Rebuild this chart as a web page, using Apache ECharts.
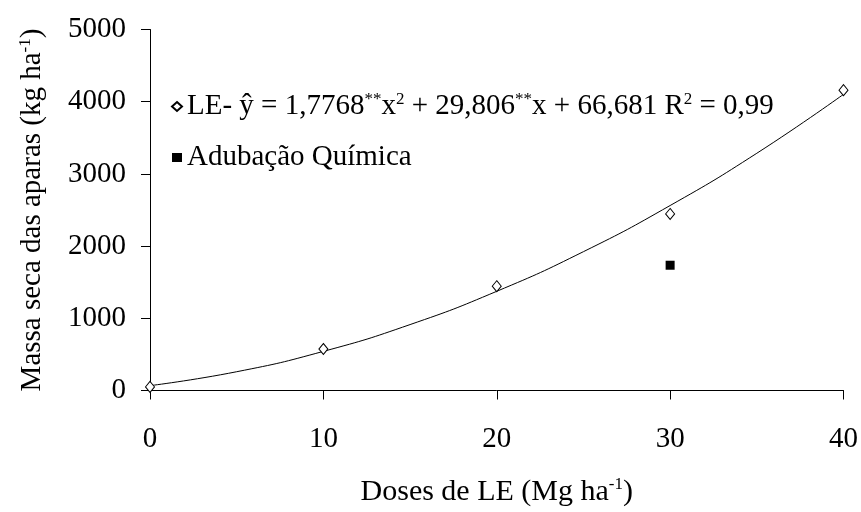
<!DOCTYPE html>
<html><head><meta charset="utf-8">
<script src="https://cdn.jsdelivr.net/npm/echarts@6/dist/echarts.min.js"></script>
<style>html,body{margin:0;padding:0;background:#fff}#c{width:861px;height:512px}</style>
</head><body><div id="c"></div>
<script>
// Observed LE doses and dry mass
var doses = [0, 10, 20, 30, 40];
var leValues = [50, 575, 1445, 2445, 4160];
// Chemical fertilization point
var quimDose = [30];
var quimValues = [1735];
// Fitted curve
var curveX = [0, 5, 10, 15, 20, 25, 30, 35, 40];
var curveY = [67, 260, 542, 913, 1374, 1923, 2562, 3286, 4102];
var xTicks = [0, 10, 20, 30, 40];
var yTicks = [0, 1000, 2000, 3000, 4000, 5000];

var font = 'Liberation Serif';
var FS = 29;
var chart = echarts.init(document.getElementById('c'));
var sup = {fontFamily: font, fontSize: 17, verticalAlign: 'top', color: '#000', padding:[0,0,14,0]};
chart.setOption({
  animation: false,
  grid: {left: 150, right: 17, top: 29.5, bottom: 121.5},
  xAxis: {
    type: 'value', min: xTicks[0], max: xTicks[xTicks.length-1], interval: 10,
    axisLine: {lineStyle: {color: '#000', width: 1}},
    axisTick: {show: true, length: 9, lineStyle: {color: '#000'}},
    splitLine: {show: false},
    axisLabel: {color: '#000', fontFamily: font, fontSize: FS, margin: 34, formatter: function (v) { return String(v); }},
    name: '{t|Doses de LE (Mg ha}{s|-1}{t|)}',
    nameLocation: 'middle', nameGap: 86,
    nameTextStyle: {rich: {t: {fontFamily: font, fontSize: 30, color: '#000'}, s: sup}}
  },
  yAxis: {
    type: 'value', min: yTicks[0], max: yTicks[yTicks.length-1], interval: 1000,
    axisLine: {show: true, lineStyle: {color: '#000', width: 1}},
    axisTick: {show: true, length: 9, lineStyle: {color: '#000'}},
    splitLine: {show: false},
    axisLabel: {color: '#000', fontFamily: font, fontSize: FS, margin: 24, formatter: function (v) { return String(v); }},
    name: '{t|Massa seca das aparas (kg ha}{s|-1}{t|)}',
    nameLocation: 'middle', nameGap: 102, nameRotate: 90,
    nameTextStyle: {rich: {t: {fontFamily: font, fontSize: FS, color: '#000'}, s: sup}}
  },
  legend: {
    orient: 'vertical', left: 166, top: 86, itemGap: 22,
    itemWidth: 10, itemHeight: 9,
    data: ['LE', 'Adubação Química'],
    formatter: function (n) {
      if (n === 'LE') return '{t|LE- ŷ = 1,7768}{s|**}{t|x}{s|2}{t| + 29,806}{s|**}{t|x + 66,681 R}{s|2}{t| = 0,99}';
      return '{t|Adubação Química}';
    },
    textStyle: {color: '#000', fontFamily: font, fontSize: FS,
      rich: {t: {fontFamily: font, fontSize: FS, color: '#000', lineHeight: 30}, s: sup}}
  },
  series: [
    {name: 'curve', type: 'line', data: curveX.map(function (x, i) { return [x, curveY[i]]; }),
     smooth: true, showSymbol: false, symbol: 'none', lineStyle: {color: '#000', width: 1}, z: 1},
    {name: 'LE', type: 'scatter', data: doses.map(function (x, i) { return [x, leValues[i]]; }),
     symbol: 'diamond', symbolSize: [9, 11], itemStyle: {color: '#fff', borderColor: '#000', borderWidth: 1, opacity: 1}, z: 3},
    {name: 'Adubação Química', type: 'scatter', data: quimDose.map(function (x, i) { return [x, quimValues[i]]; }),
     symbol: 'rect', symbolSize: 9, itemStyle: {color: '#000', opacity: 1}, z: 3}
  ]
});
</script></body></html>
